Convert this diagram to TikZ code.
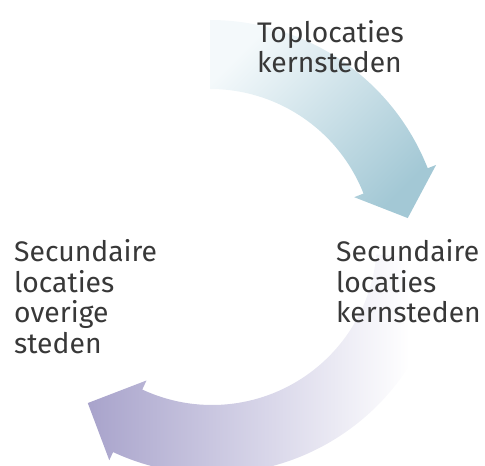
\documentclass[tikz,border=0pt]{standalone}
\usepackage{fontspec}
\setmainfont{Fira Sans}
\definecolor{txt}{HTML}{383838}
\definecolor{bluelight}{HTML}{F4F9FB}
\definecolor{bluedark}{HTML}{A3C8D5}
\definecolor{lavdark}{HTML}{A8A3CB}
\definecolor{lavmid}{HTML}{D8D6E9}
\pgfdeclarehorizontalshading{botsh}{100bp}{color(0bp)=(lavdark); color(25bp)=(lavdark); color(50bp)=(lavmid); color(70bp)=(white); color(100bp)=(white)}
\tikzset{
  lbl/.style={anchor=north west, inner sep=0pt, align=left, text=txt,
    font=\fontsize{28.3}{30.5}\selectfont},
  toparrow/.style={top color=bluelight, bottom color=bluedark, shading angle=45, draw=none},
  botarrow/.style={shading=botsh, draw=none}
}
\begin{document}
\begin{tikzpicture}[x=1pt,y=1pt]
\useasboundingbox (0,0) rectangle (485,466);
\coordinate (tc) at (210,212);
\coordinate (bc) at (212,226);
\begin{scope}
\clip (0,0) rectangle (485,466);
\shade[toparrow] ([shift={(tc)}]90:234) arc[start angle=90,end angle=21.5,radius=234]
  -- ([shift={(tc)}]21.5:243) -- ([shift={(tc)}]10.3:201) -- ([shift={(tc)}]21.5:155)
  -- ([shift={(tc)}]21.5:165) arc[start angle=21.5,end angle=90,radius=165] -- cycle;
\shade[botarrow] ([shift={(bc)}]-5:234) arc[start angle=-5,end angle=-115,radius=234]
  -- ([shift={(bc)}]-115:243) -- ([shift={(bc)}]-127.3:205) -- ([shift={(bc)}]-115:155)
  -- ([shift={(bc)}]-115:165) arc[start angle=-115,end angle=-5,radius=165] -- cycle;
\end{scope}
\node[lbl] (top) at (257,446) {Toplocaties\\kernsteden};
\node[lbl] (right) at (336,226.5) {Secundaire\\locaties\\kernsteden};
\node[lbl] (left) at (14,226.5) {Secundaire\\locaties\\overige\\steden};
\end{tikzpicture}
\end{document}
